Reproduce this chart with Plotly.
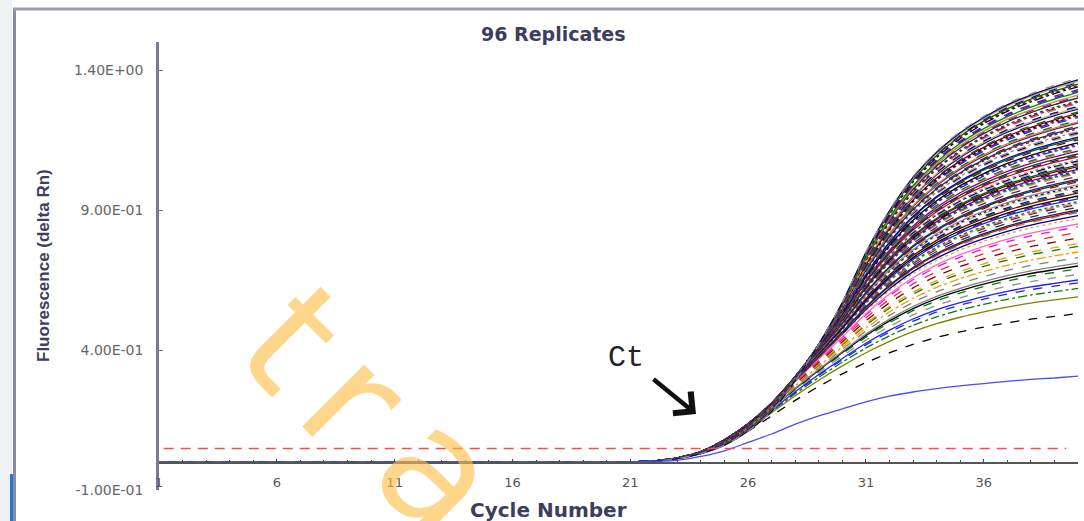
import plotly.graph_objects as go

# ---------------- data ----------------
cycles = list(range(1, 41))

# top-most amplification curve, delta Rn per cycle
profile_high = [0, 0, 0, 0, 0, 0, 0, 0, 0, 0, 0, 0, 0, 0, 0, 0, 0, 0, 0, 0,
                0, 0.003, 0.012, 0.03, 0.06, 0.11, 0.18, 0.29, 0.42, 0.57,
                0.75, 0.9, 1.02, 1.11, 1.18, 1.235, 1.28, 1.315, 1.345, 1.37]
# lowest curve of the main group (black dashed), delta Rn per cycle
profile_low = [0, 0, 0, 0, 0, 0, 0, 0, 0, 0, 0, 0, 0, 0, 0, 0, 0, 0, 0, 0,
               0, 0.003, 0.012, 0.03, 0.065, 0.11, 0.165, 0.22, 0.27, 0.315,
               0.355, 0.39, 0.42, 0.445, 0.465, 0.482, 0.497, 0.51, 0.52, 0.53]
# the single low blue outlier
outlier_blue = [0, 0, 0, 0, 0, 0, 0, 0, 0, 0, 0, 0, 0, 0, 0, 0, 0, 0, 0, 0,
                0, 0.002, 0.006, 0.02, 0.04, 0.07, 0.10, 0.135, 0.165, 0.19,
                0.215, 0.235, 0.25, 0.262, 0.272, 0.28, 0.288, 0.295, 0.30, 0.307]

# end-point (cycle 40) value of each of the other 95 replicates
plateaus_dense = [1.37, 1.365, 1.36, 1.355, 1.35, 1.345, 1.34, 1.33, 1.325, 1.32,
                  1.31, 1.305, 1.30, 1.29, 1.285, 1.28, 1.27, 1.265, 1.26, 1.25,
                  1.245, 1.24, 1.235, 1.23, 1.22, 1.215, 1.21, 1.20, 1.195, 1.19,
                  1.18, 1.175, 1.17, 1.16, 1.155, 1.15, 1.14, 1.135, 1.13, 1.12,
                  1.115, 1.11, 1.10, 1.095, 1.09, 1.08, 1.075, 1.07, 1.065, 1.06,
                  1.055, 1.05, 1.045, 1.04, 1.035, 1.03,
                  1.02, 1.01, 1.005, 1.00, 0.99, 0.985, 0.98, 0.97, 0.965, 0.96,
                  0.95, 0.945, 0.94, 0.93, 0.925, 0.92, 0.91, 0.90, 0.895, 0.89,
                  0.88, 0.87]
plateaus_low = [0.85, 0.84, 0.82, 0.80, 0.78, 0.77, 0.75, 0.73, 0.71, 0.70,
                0.69, 0.67, 0.65, 0.64, 0.62, 0.59, 0.53]

threshold = [0.048, 0.048]
threshold_x = [1.2, 39.5]

x_tickvals = [1, 6, 11, 16, 21, 26, 31, 36]
y_tickvals = [1.4, 0.9, 0.4, -0.1]
y_ticktext = ["1.40E+00", "9.00E-01", "4.00E-01", "-1.00E-01"]

# ---------------- styles ----------------
dense_palette = ["#8a8a8a", "#000080", "#d8a838", "#0000cc", "#006400", "#800000",
                 "#000000", "#800080", "#1f1fff", "#008000", "#b89028", "#8b008b",
                 "#303030", "#003366", "#cc0000"]
dense_dashes = ["dash", "solid", "solid", "dash", "solid", "dot", "dashdot", "dash"]
low_colors = ["#ff69b4", "#ff00ff", "#e03030", "#8b0000", "#ff9900", "#008000",
              "#ff9900", "#808080", "#808080", "#000000", "#008000", "#909090",
              "#1f1fff", "#1f1fff", "#008000", "#808000", "#000000"]
low_dashes = ["solid", "dash", "dash", "dash", "dash", "dash", "dashdot", "dash",
              "solid", "solid", "dash", "dash", "solid", "dash", "dashdot", "solid",
              "dash"]


def px_x(px):
    return (px - 159) / 919


def px_y(py):
    return (490 - py) / 448


fig = go.Figure()

top_end = profile_high[-1]
low_end = profile_low[-1]
curves = []
for i, p in enumerate(plateaus_dense):
    curves.append((p, dense_palette[i % len(dense_palette)], dense_dashes[i % len(dense_dashes)]))
for i, p in enumerate(plateaus_low):
    curves.append((p, low_colors[i], low_dashes[i]))

# draw the lower curves first so the dense top group sits above them
for p, col, dsh in reversed(curves):
    w = (p - low_end) / (top_end - low_end)
    yv = [p * ((1 - w) * lo / low_end + w * hi / top_end) for hi, lo in zip(profile_high, profile_low)]
    fig.add_trace(go.Scatter(x=cycles, y=yv, mode="lines",
                             line=dict(color=col, width=1.3, dash=dsh, shape="spline", smoothing=0.6),
                             hoverinfo="skip", showlegend=False))

fig.add_trace(go.Scatter(x=cycles, y=outlier_blue, mode="lines",
                         line=dict(color="#4a4aff", width=1.3, shape="spline", smoothing=0.6),
                         hoverinfo="skip", showlegend=False))

fig.add_trace(go.Scatter(x=threshold_x, y=threshold, mode="lines",
                         line=dict(color="#ff4a4a", width=1.5, dash="10px,7px"),
                         hoverinfo="skip", showlegend=False))

# ---------------- frame decorations ----------------
shapes = [
    dict(type="rect", xref="paper", yref="paper", x0=px_x(0), x1=px_x(12),
         y0=px_y(521), y1=px_y(0), fillcolor="#eef1f5", line=dict(width=0), layer="below"),
    dict(type="rect", xref="paper", yref="paper", x0=px_x(10), x1=px_x(13),
         y0=px_y(521), y1=px_y(474), fillcolor="#2a78c8", line=dict(width=0)),
    dict(type="line", xref="paper", yref="paper", x0=px_x(14.5), x1=px_x(14.5),
         y0=px_y(8), y1=px_y(521), line=dict(color="#8c8aa8", width=3)),
    dict(type="line", xref="paper", yref="paper", x0=px_x(13), x1=px_x(1084),
         y0=px_y(9), y1=px_y(9), line=dict(color="#9c9ab6", width=3)),
]

wm_color = "rgba(255,190,70,0.62)"
A = dict(xref="paper", yref="paper", xanchor="center", yanchor="middle", showarrow=False)
annotations = [
    dict(text="t", x=px_x(292), y=px_y(338), textangle=45,
         font=dict(family="DejaVu Sans", size=160, color=wm_color), **A),
    dict(text="r", x=px_x(355), y=px_y(400), textangle=45,
         font=dict(family="DejaVu Sans", size=160, color=wm_color), **A),
    dict(text="a", x=px_x(440), y=px_y(472), textangle=45,
         font=dict(family="DejaVu Sans", size=160, color=wm_color), **A),
    dict(text="<b>96 Replicates</b>", x=px_x(553), y=px_y(34),
         font=dict(family="DejaVu Sans", size=19, color="#3d3d5c"), **A),
    dict(text="<b>Fluorescence (delta Rn)</b>", x=px_x(43), y=px_y(266), textangle=-90,
         font=dict(family="Liberation Sans", size=17, color="#3d3d66"), **A),
    dict(text="<b>Cycle Number</b>", x=px_x(548), y=px_y(510),
         font=dict(family="DejaVu Sans", size=20, color="#3d3d5c"), **A),
    dict(text="Ct", x=px_x(626), y=px_y(358),
         font=dict(family="Liberation Mono", size=30, color="#222222"), **A),
    dict(text="", x=px_x(696), y=px_y(414), xref="paper", yref="paper", showarrow=True,
         ax=-44, ay=-36, arrowhead=4, arrowsize=1.2, arrowwidth=4.5, arrowcolor="#111111"),
]

fig.update_layout(
    width=1084, height=521, autosize=False,
    margin=dict(l=159, r=6, t=42, b=31, pad=0),
    paper_bgcolor="white", plot_bgcolor="white",
    shapes=shapes, annotations=annotations,
    xaxis=dict(range=[1, 40], anchor="free", position=px_y(463), showgrid=False,
               zeroline=False, showline=True, linecolor="#555555", linewidth=1.5,
               ticks="inside", ticklen=3, tickcolor="#444444",
               tickvals=x_tickvals, ticklabelstandoff=8,
               minor=dict(dtick=1, ticks="inside", ticklen=2, tickcolor="#444444"),
               tickfont=dict(family="DejaVu Sans", size=13, color="#555555")),
    yaxis=dict(range=[-0.1, 1.5], showgrid=False, zeroline=False, showline=True,
               linecolor="#7a7a96", linewidth=2.5, ticks="inside", ticklen=4,
               tickcolor="#777777", tickvals=y_tickvals, ticktext=y_ticktext,
               ticklabelstandoff=10,
               tickfont=dict(family="DejaVu Sans", size=14, color="#666666")),
)

fig.write_html("out.html")
